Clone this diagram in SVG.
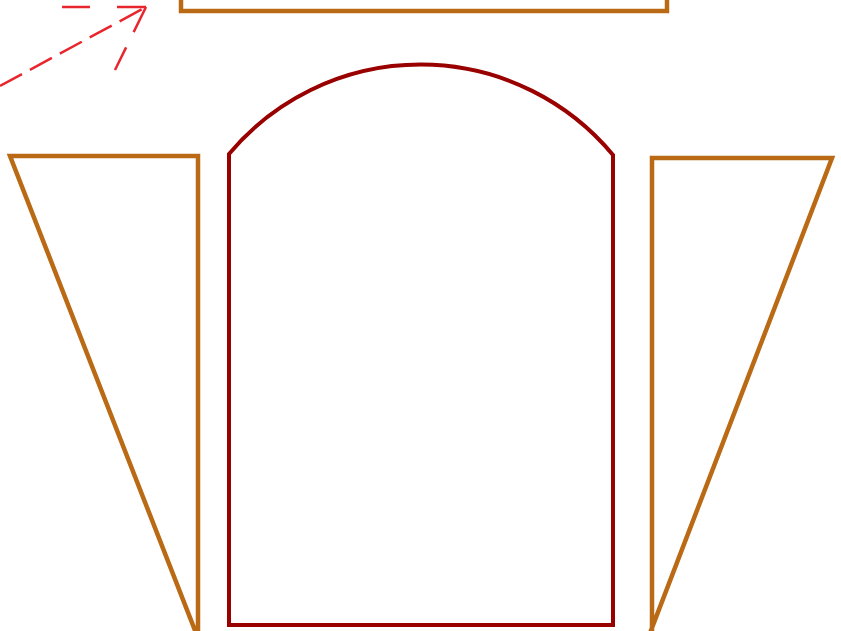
<svg xmlns="http://www.w3.org/2000/svg" width="841" height="631" viewBox="0 0 841 631">
<style>
.orange{fill:none;stroke:#BA6A14;stroke-width:4.5;stroke-linejoin:miter}
.dark{fill:none;stroke:#990000;stroke-width:4;stroke-linejoin:miter}
.dash{fill:none;stroke:#E8262E;stroke-width:2.5;stroke-dasharray:25 9}
</style>
<rect width="841" height="631" fill="#ffffff"/>
<g id="top-box">
<rect class="orange" x="181" y="-20" width="486" height="31"/>
</g>
<g id="center-arch">
<path class="dark" d="M229,154 A250,250 0 0 1 613,155 L613,625 L229,625 Z"/>
</g>
<g id="left-wedge">
<path class="orange" d="M198,633 L198,156 L10,156 L196,633"/>
</g>
<g id="right-wedge">
<path class="orange" d="M652,633 L652,158 L832,158 L650,633"/>
</g>
<g id="connectors">
<path class="dash" d="M0,86 L146,7"/>
<path class="dash" style="stroke-dasharray:29 27" d="M146,7 L62,7"/>
<path class="dash" style="stroke-dasharray:28 17" d="M146,7 L115,70"/>
</g>
</svg>
